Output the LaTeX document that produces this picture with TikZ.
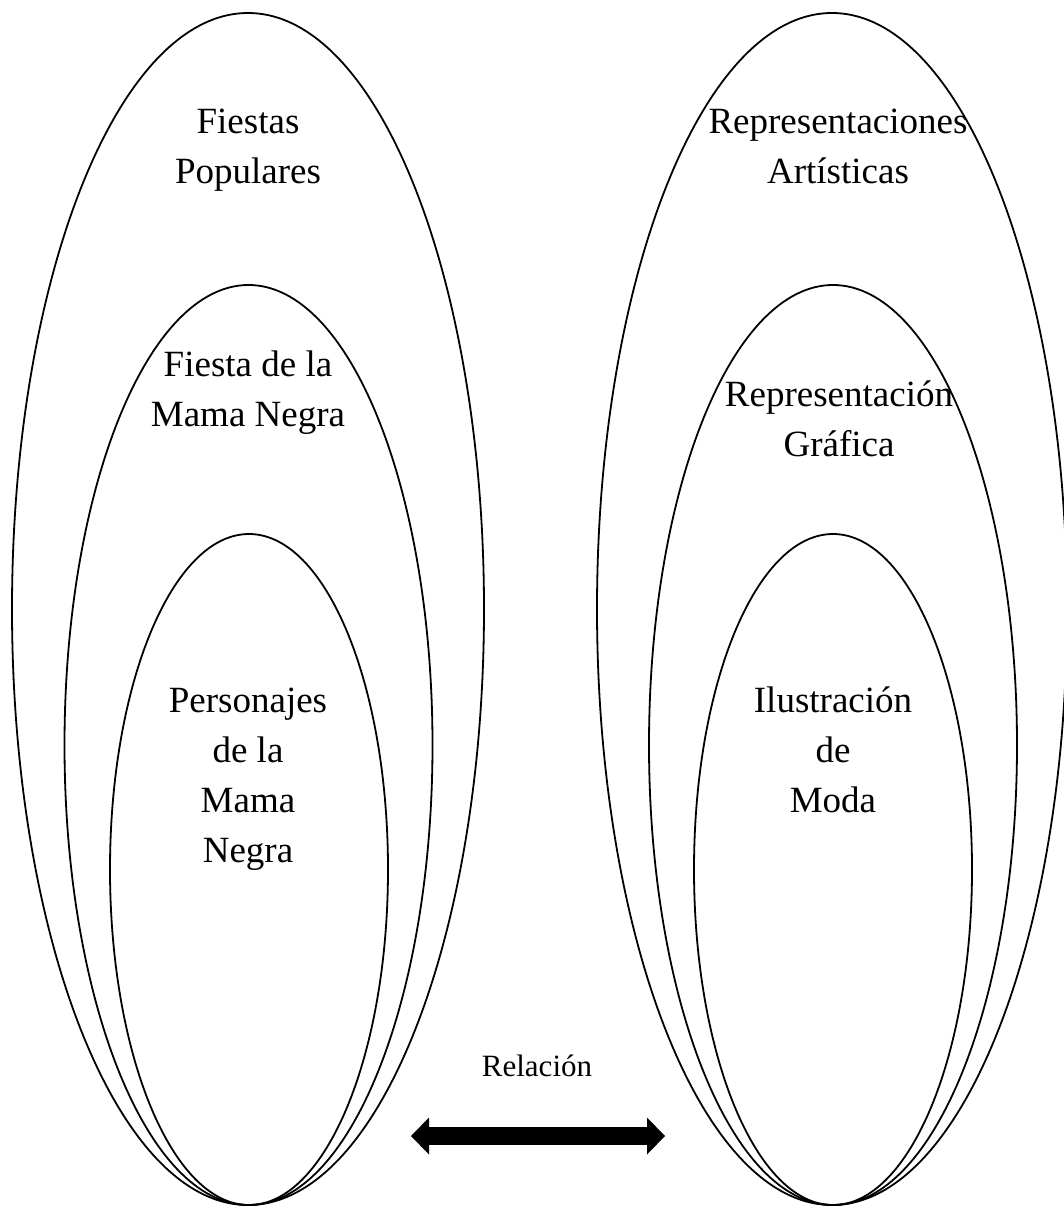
\documentclass[tikz,border=0pt]{standalone}
\usepackage{fontspec}
\setmainfont{Liberation Serif}
\usetikzlibrary{shapes.geometric,arrows.meta}
\tikzset{bigtip/.tip={Triangle[length=18pt,width=37pt,line width=0pt]}}
\begin{document}
\begin{tikzpicture}[x=1pt,y=-1pt,
  setshape/.style={draw, ellipse, line width=1.8pt, inner sep=0pt, outer sep=0pt},
  lbl/.style={align=center, font=\fontsize{37}{50}\selectfont, inner sep=0pt, anchor=base}
]
\useasboundingbox (0,0) rectangle (1063,1207);
% left group
\node[setshape, minimum width=472pt, minimum height=1192pt] (LO) at (248,609) {};
\node[setshape, minimum width=368pt, minimum height=920pt] (LM) at (248.5,745) {};
\node[setshape, minimum width=278pt, minimum height=671pt] (LI) at (249,869.5) {};
% right group
\node[setshape, minimum width=470pt, minimum height=1192pt] (RO) at (832,609) {};
\node[setshape, minimum width=368pt, minimum height=920pt] (RM) at (833,745) {};
\node[setshape, minimum width=278pt, minimum height=671pt] (RI) at (833,869.5) {};
% labels (anchor base = baseline of the last line)
\node[lbl] (t1) at (248,183) {Fiestas\\Populares};
\node[lbl] (t2) at (248,426) {Fiesta de la\\Mama Negra};
\node[lbl, font=\fontsize{37}{49.7}\selectfont] (t3) at (248,862) {Personajes\\de la\\Mama\\Negra};
\node[lbl] (t4) at (838,183) {Representaciones\\Artísticas};
\node[lbl] (t5) at (839,456) {Representación\\Gráfica};
\node[lbl, font=\fontsize{37}{49.7}\selectfont] (t6) at (833,812) {Ilustración\\de\\Moda};
\node[lbl, font=\fontsize{31}{37}\selectfont] (rel) at (537,1076) {Relación};
% relation arrow
\coordinate (aL) at (411,1136);
\coordinate (aR) at (665,1136);
\draw[line width=18pt, bigtip-bigtip] (aL) -- (aR);
\end{tikzpicture}
\end{document}
